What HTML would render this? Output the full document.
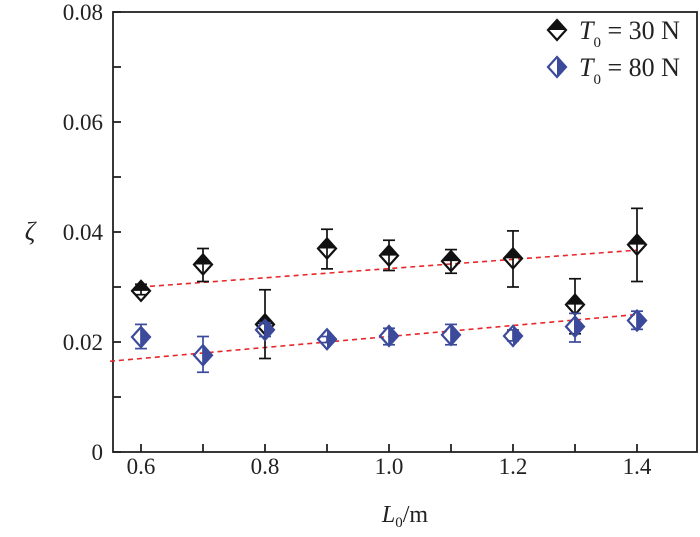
<!DOCTYPE html>
<html><head><meta charset="utf-8"><style>
body{margin:0;background:#fff}
svg text{font-family:"Liberation Serif",serif;fill:#222}
</style></head><body>
<svg id="chart" width="700" height="532" xmlns="http://www.w3.org/2000/svg"></svg>
<script>
const xs=[0.6,0.7,0.8,0.9,1.0,1.1,1.2,1.3,1.4];
const s30=[0.0293,0.0341,0.0232,0.0370,0.0357,0.0347,0.0352,0.0268,0.0377];
const s30lo=[0.0286,0.0310,0.0170,0.0333,0.0330,0.0325,0.0300,0.0215,0.0310];
const s30hi=[0.0305,0.0370,0.0295,0.0405,0.0385,0.0368,0.0402,0.0315,0.0443];
const s80=[0.0209,0.0176,0.0222,0.0205,0.0211,0.0213,0.0211,0.0228,0.0239];
const s80lo=[0.0188,0.0145,0.0210,0.0199,0.0195,0.0195,0.0202,0.0200,0.0223];
const s80hi=[0.0232,0.0210,0.0235,0.0210,0.0225,0.0232,0.0222,0.0252,0.0256];
const fit30=[[0.6,0.0300],[1.4,0.0367]];
const fit80=[[0.55,0.0165],[1.4,0.0250]];
const xTicks=[0.6,0.8,1.0,1.2,1.4];
const xLabels=["0.6","0.8","1.0","1.2","1.4"];
const yTicks=[0,0.02,0.04,0.06,0.08];
const yLabels=["0","0.02","0.04","0.06","0.08"];
const yMinor=[0.01,0.03,0.05,0.07];
const xMinor=[0.7,0.9,1.1,1.3];

const L=113,R=697,T=12,B=452;
const X=v=>141+(v-0.6)*620;
const Y=v=>B-v*5500;
const svg=document.getElementById('chart');
const NS='http://www.w3.org/2000/svg';
function mk(tag,attrs,parent){const e=document.createElementNS(NS,tag);for(const k in attrs)e.setAttribute(k,attrs[k]);(parent||svg).appendChild(e);return e;}

let g;
g=mk('g',{});


mk('rect',{x:L,y:T,width:R-L,height:B-T,fill:'none',stroke:'#222','stroke-width':1.8},g);

g=mk('g',{});


xTicks.forEach((v,i)=>{
  mk('line',{x1:X(v),x2:X(v),y1:B,y2:B-8,stroke:'#222','stroke-width':1.8},g);
  const t=mk('text',{x:X(v),y:B+22,'text-anchor':'middle','font-size':23},g);t.textContent=xLabels[i];
});
xMinor.forEach(v=>mk('line',{x1:X(v),x2:X(v),y1:B,y2:B-8,stroke:'#222','stroke-width':1.8},g));

g=mk('g',{});


yTicks.forEach((v,i)=>{
  mk('line',{x1:L,x2:L+8,y1:Y(v),y2:Y(v),stroke:'#222','stroke-width':1.8},g);
  const t=mk('text',{x:L-10,y:Y(v)+8,'text-anchor':'end','font-size':23},g);t.textContent=yLabels[i];
});
yMinor.forEach(v=>mk('line',{x1:L,x2:L+8,y1:Y(v),y2:Y(v),stroke:'#222','stroke-width':1.8},g));

let t=mk('text',{x:405,y:522,'text-anchor':'middle','font-size':24});


t.innerHTML='<tspan font-style="italic">L</tspan><tspan font-size="15" dy="5">0</tspan><tspan dy="-5">/m</tspan>';
t=mk('text',{x:30,y:240,'text-anchor':'middle','font-size':26,'font-style':'italic'});


t.textContent='ζ';

function fitLine(f,name){
  const l=mk('line',{x1:X(f[0][0]),y1:Y(f[0][1]),x2:X(f[1][0]),y2:Y(f[1][1]),stroke:'#e8262a','stroke-width':1.6,'stroke-dasharray':'5,4'});
  
  
}
fitLine(fit30,'fit-line-30n');
fitLine(fit80,'fit-line-80n');

function diamond(cx,cy,col,half,parent){
  const r=10;
  const pts=`${cx},${cy-r} ${cx+r*0.9},${cy} ${cx},${cy+r} ${cx-r*0.9},${cy}`;
  if(half==='top') mk('polygon',{points:`${cx},${cy-r} ${cx+r*0.9},${cy} ${cx-r*0.9},${cy}`,fill:col},parent);
  else mk('polygon',{points:`${cx},${cy-r} ${cx+r*0.9},${cy} ${cx},${cy+r}`,fill:col},parent);
  mk('polygon',{points:pts,fill:'none',stroke:col,'stroke-width':2.2},parent);
}
function series(vals,lo,hi,col,half,name){
  const sg=mk('g',{});
  
  
  xs.forEach((x,i)=>{
    const cx=X(x);
    mk('line',{x1:cx,x2:cx,y1:Y(lo[i]),y2:Y(hi[i]),stroke:col,'stroke-width':1.7},sg);
    mk('line',{x1:cx-6,x2:cx+6,y1:Y(lo[i]),y2:Y(lo[i]),stroke:col,'stroke-width':1.7},sg);
    mk('line',{x1:cx-6,x2:cx+6,y1:Y(hi[i]),y2:Y(hi[i]),stroke:col,'stroke-width':1.7},sg);
    const p=mk('g',{},sg);
    
    
    diamond(cx,Y(vals[i]),col,half,p);
  });
}
series(s30,s30lo,s30hi,'#111','top','series-30n');
series(s80,s80lo,s80hi,'#3b4a9a','right','series-80n');

const lg=mk('g',{});


const e1=mk('g',{},lg);


diamond(557,30,'#111','top',e1);
t=mk('text',{x:579,y:39,'font-size':26},e1);
t.innerHTML='<tspan font-style="italic">T</tspan><tspan font-size="15" dy="8">0</tspan><tspan dy="-8"> = 30 N</tspan>';
const e2=mk('g',{},lg);


diamond(557,67,'#3b4a9a','right',e2);
t=mk('text',{x:579,y:76,'font-size':26},e2);
t.innerHTML='<tspan font-style="italic">T</tspan><tspan font-size="15" dy="8">0</tspan><tspan dy="-8"> = 80 N</tspan>';
</script>
</body></html>
